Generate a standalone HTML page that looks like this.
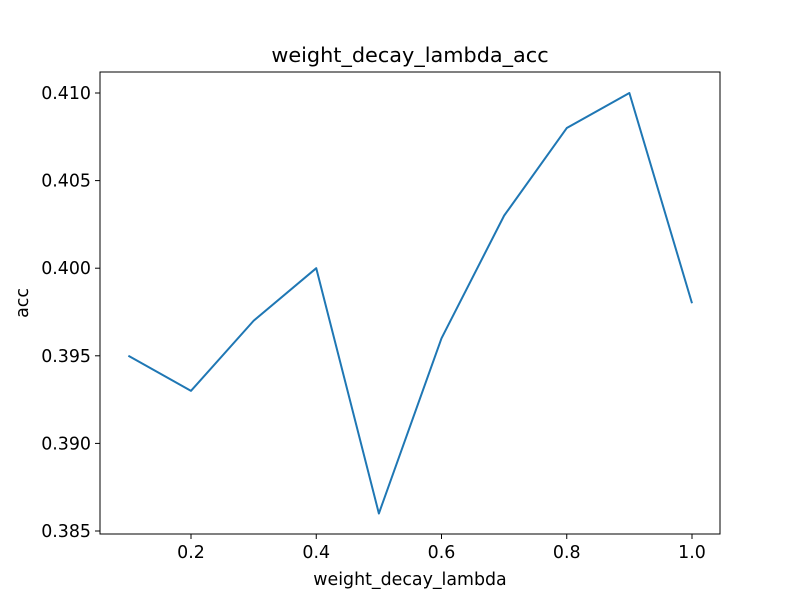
<!DOCTYPE html>
<html><head><meta charset="utf-8"><style>
body{margin:0;background:#fff;}
svg text{font-family:"DejaVu Sans","Liberation Sans",sans-serif;fill:#000;}
</style></head><body>
<svg id="chart" width="800" height="600" viewBox="0 0 800 600" xmlns="http://www.w3.org/2000/svg">
<rect width="800" height="600" fill="#fff"/>
<text x="410" y="62" font-size="20.8" text-anchor="middle">weight_decay_lambda_acc</text>
<g id="xticks"></g>
<g id="yticks"></g>
<path id="line" fill="none" stroke="#1f77b4" stroke-width="2" stroke-linejoin="round"/>
<rect x="100" y="72" width="620" height="462" fill="none" stroke="#000" stroke-width="1"/>
<text x="410" y="585" font-size="17.4" text-anchor="middle">weight_decay_lambda</text>
<text x="28" y="303" font-size="17.4" text-anchor="middle" transform="rotate(-90 28 303)">acc</text>
</svg>
<script>
const lambdas=[0.1,0.2,0.3,0.4,0.5,0.6,0.7,0.8,0.9,1.0];
const accValues=[0.395,0.393,0.397,0.400,0.386,0.396,0.403,0.408,0.410,0.398];
const xTickValues=[0.2,0.4,0.6,0.8,1.0];
const xTickLabels=["0.2","0.4","0.6","0.8","1.0"];
const yTickValues=[0.385,0.390,0.395,0.400,0.405,0.410];
const yTickLabels=["0.385","0.390","0.395","0.400","0.405","0.410"];
const NS="http://www.w3.org/2000/svg";
function sx(v){return 191+(v-0.2)*(692-191)/0.8;}
function sy(v){return 531-(v-0.385)*(531-93)/0.025;}
const xg=document.getElementById('xticks'),yg=document.getElementById('yticks');
xTickValues.forEach((v,i)=>{
 const l=document.createElementNS(NS,'line');
 
 
 l.setAttribute('x1',sx(v));l.setAttribute('x2',sx(v));l.setAttribute('y1',534);l.setAttribute('y2',539);l.setAttribute('stroke','#000');
 xg.appendChild(l);
 const t=document.createElementNS(NS,'text');
 
 
 t.setAttribute('x',sx(v));t.setAttribute('y',558);t.setAttribute('font-size','17.4');t.setAttribute('text-anchor','middle');
 t.textContent=xTickLabels[i];xg.appendChild(t);
});
yTickValues.forEach((v,i)=>{
 const l=document.createElementNS(NS,'line');
 
 
 l.setAttribute('x1',95);l.setAttribute('x2',100);l.setAttribute('y1',sy(v));l.setAttribute('y2',sy(v));l.setAttribute('stroke','#000');
 yg.appendChild(l);
 const t=document.createElementNS(NS,'text');
 
 
 t.setAttribute('x',91);t.setAttribute('y',sy(v)+6);t.setAttribute('font-size','17.4');t.setAttribute('text-anchor','end');
 t.textContent=yTickLabels[i];yg.appendChild(t);
});
document.getElementById('line').setAttribute('d',lambdas.map((x,i)=>(i?'L':'M')+sx(x)+' '+sy(accValues[i])).join(' '));
</script>
</body></html>
